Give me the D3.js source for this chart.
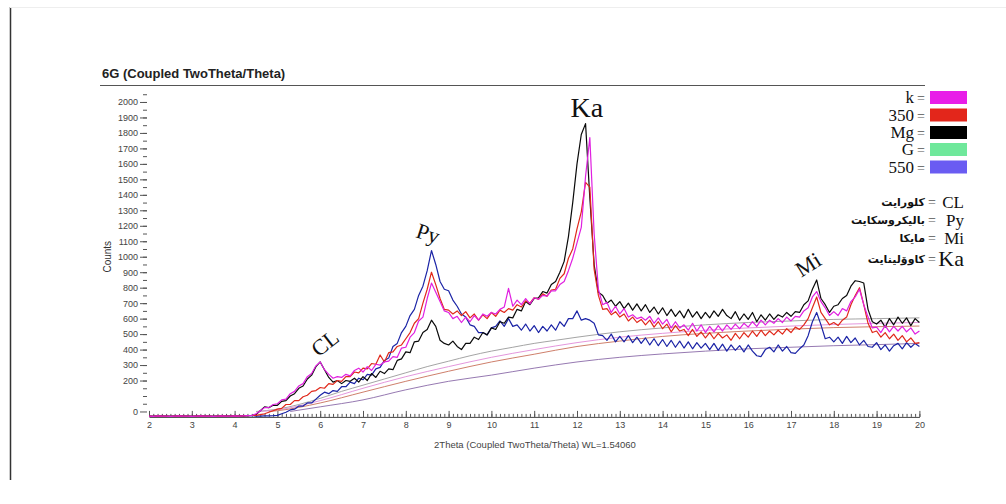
<!DOCTYPE html>
<html>
<head>
<meta charset="utf-8">
<script src="https://cdn.jsdelivr.net/npm/d3@7"></script>
<style>
  body { margin: 0; background: #fff; }
  svg { display: block; }
  .tick text { font-family: "Liberation Sans", Arial, sans-serif; font-size: 9px; fill: #444; }
  .tick line { stroke: #555; }
  .axis .domain { stroke: #444; }
</style>
</head>
<body>
<svg id="chart" width="1006" height="504"></svg>
<script>
const width = 1006, height = 504;

// ----- data (counts at every 0.1 deg, 2.0 .. 20.0) -----
const twoTheta = d3.range(0, 181).map(i => +(2 + i * 0.1).toFixed(1));

const flatStart = [-30,-31,-29,-30,-30,-31,-30,-29,-30,-30,-31,-30,-29,-30,-30,-31,-30,-29,-30,-30,-29,-30,-28,-27,-26];

// k (magenta)
const countsK = flatStart.concat([
  -15,5,25,25,45,50,75,80,115,130,
  165,180,225,245,295,320,270,240,215,225,
  220,240,230,265,280,255,290,265,305,300,
  320,325,355,350,410,415,480,510,585,610,
  730,830,770,710,650,640,600,615,575,610,
  580,620,590,630,615,640,630,660,675,795,
  680,720,690,730,695,735,725,750,745,780,
  780,820,840,910,990,1090,1190,1520,1770,1150,
  790,690,705,640,680,630,665,610,625,600,
  610,590,615,570,605,565,595,540,580,540,
  560,525,570,520,560,510,550,515,555,520,
  560,530,565,535,570,545,580,550,590,560,
  590,570,600,575,610,585,615,610,650,670,
  740,775,710,670,620,645,620,665,650,710,
  740,790,690,610,540,545,510,555,515,550,
  520,550,515,540,500,520]);

// 350 (red)
const counts350 = flatStart.concat([
  -25,-20,-15,-5,5,15,20,45,45,70,
  70,95,105,130,135,155,150,180,175,200,
  195,225,225,255,250,280,275,310,305,365,
  320,380,385,420,430,470,510,570,600,700,
  790,900,820,730,660,655,630,650,620,645,
  605,630,590,625,600,640,615,655,640,665,
  655,690,675,715,700,735,725,760,745,785,
  790,860,890,990,1050,1180,1290,1480,1450,920,
  750,660,665,625,645,610,630,585,610,575,
  595,560,590,545,580,535,565,515,555,520,
  530,490,530,485,515,475,510,470,505,475,
  495,460,505,470,510,480,520,485,525,490,
  520,495,525,500,535,510,545,530,560,600,
  670,740,640,600,560,575,555,590,610,690,
  750,800,690,570,510,520,480,510,470,500,
  460,490,450,475,440,445]);

// Mg (black)
const countsMg = flatStart.concat([
  -20,5,30,25,40,40,65,70,100,115,
  150,165,210,235,290,320,270,220,190,200,
  180,200,195,215,190,225,200,245,220,260,
  245,275,270,330,340,385,380,450,455,510,
  530,590,550,460,440,430,455,420,400,440,
  440,480,465,510,495,540,530,580,570,610,
  605,660,650,710,690,730,735,775,765,820,
  840,900,970,1130,1350,1600,1790,1860,1380,950,
  770,750,700,720,680,710,665,700,655,695,
  650,690,640,675,630,670,620,660,615,650,
  605,660,610,645,600,640,605,650,615,660,
  620,600,645,590,630,595,640,580,625,590,
  630,595,625,610,640,615,645,640,690,715,
  790,850,730,690,640,680,690,730,750,810,
  845,840,830,660,580,565,590,545,600,560,
  610,570,605,555,600,575]);

// G (green) - listed in the legend, no visible trace
const countsG = [];

// 550 (blue)
const counts550 = flatStart.concat([
  -30,-30,-29,-28,-27,-25,-15,-5,10,15,
  35,35,55,55,80,105,125,115,135,130,
  160,160,190,180,215,205,240,235,275,285,
  330,345,420,440,510,550,620,660,750,810,
  910,1040,950,840,790,780,720,680,630,610,
  560,550,510,510,495,540,550,585,550,600,
  550,560,525,565,520,555,510,550,520,560,
  525,580,550,600,600,650,590,600,590,570,
  495,490,460,500,450,485,450,490,445,480,
  440,475,430,470,425,465,420,460,415,455,
  410,450,405,445,410,440,400,440,395,435,
  390,430,395,425,385,430,390,360,355,400,
  415,385,430,390,420,380,375,405,430,490,
  580,640,560,470,480,450,480,440,485,445,
  475,430,460,420,415,445,400,430,390,425,
  440,405,445,415,440,420]);

// fitted backgrounds (thin curves): [2theta, counts]
const bgMg  = [[4.5,0],[5,15],[5.5,45],[6,85],[6.5,130],[7,170],[7.5,210],[8,250],[8.5,290],[9,325],[9.5,360],[10,390],[10.5,415],[11,440],[11.5,460],[12,480],[13,515],[14,540],[15,560],[16,575],[17,585],[18,595],[19,600],[20,605]];
const bgK   = [[4.6,0],[5,10],[6,70],[7,150],[8,225],[9,290],[10,350],[11,400],[12,445],[13,480],[14,505],[15,525],[16,540],[17,552],[18,562],[19,570],[20,575]];
const bg350 = [[4.8,0],[5,5],[6,55],[7,125],[8,195],[9,260],[10,320],[11,370],[12,420],[13,455],[14,485],[15,505],[16,520],[17,532],[18,542],[19,548],[20,552]];
const bg550 = [[5.3,0],[6,30],[7,75],[8,140],[9,195],[10,235],[11,280],[12,320],[13,350],[14,372],[15,390],[16,405],[17,415],[18,425],[19,432],[20,440]];

const legendNames  = ["k", "350", "Mg", "G", "550"];
const legendColors = ["#e81ee8", "#e3261b", "#000000", "#6fe89b", "#6a5cf2"];

const mineralAbbr = ["CL", "Py", "Mi", "Ka"];
const mineralName = ["کلورایت", "بالیکروسکایت", "مایکا", "کاوۆلینایت"];

const xTicks = d3.range(2, 21);
const yTicks = d3.range(200, 2001, 100).concat([0]);

// ----- chart -----
const svg = d3.select("#chart");

// outer frame bits
svg.append("line").attr("x1", 10.5).attr("x2", 10.5).attr("y1", 7).attr("y2", 480)
  .attr("stroke", "#333").attr("stroke-width", 1.5);
svg.append("line").attr("x1", 10).attr("x2", 1006).attr("y1", 7.5).attr("y2", 7.5)
  .attr("stroke", "#eee").attr("stroke-width", 1);

let x = d3.scaleLinear().domain([2, 20]).range([149, 919.4]);
let y = d3.scaleLinear().domain([-35, 2080]).range([416.9, 89.6]);

// title
svg.append("text")
  .attr("x", 102).attr("y", 78)
  .style("font-family", "Liberation Sans, Arial, sans-serif")
  .style("font-size", "13px").style("font-weight", "bold").style("fill", "#222")
  .text("6G (Coupled TwoTheta/Theta)");
svg.append("line").attr("x1", 100).attr("x2", 925).attr("y1", 85.5).attr("y2", 85.5)
  .attr("stroke", "#555").attr("stroke-width", 1);

// x axis, ticks pointing up
svg.append("g")
  .attr("class", "axis x")
  .attr("transform", "translate(0," + y(-35) + ")")
  .call(d3.axisBottom(x).tickValues(d3.range(2, 20.001, 0.1)).tickSize(-3).tickSizeOuter(0).tickFormat(""))
  .call(g => g.select(".domain").attr("stroke", "#444"));
svg.append("g")
  .attr("class", "axis x")
  .attr("transform", "translate(0," + y(-35) + ")")
  .call(d3.axisBottom(x).tickValues(xTicks).tickSize(-6).tickSizeOuter(0).tickPadding(5).tickFormat(d3.format("d")))
  .call(g => g.select(".domain").remove());

// y axis
svg.append("g")
  .attr("class", "axis y")
  .attr("transform", "translate(147,0)")
  .call(d3.axisLeft(y).tickValues(d3.range(50, 2051, 50)).tickSize(4).tickFormat(""))
  .call(g => g.select(".domain").remove());
svg.append("g")
  .attr("class", "axis y")
  .attr("transform", "translate(147,0)")
  .call(d3.axisLeft(y).tickValues(yTicks).tickSize(7).tickPadding(2).tickFormat(d3.format("d")))
  .call(g => g.select(".domain").remove());

// axis titles
svg.append("text")
  .attr("transform", "translate(111," + y(1000) + ") rotate(-90)")
  .attr("text-anchor", "middle")
  .style("font-family", "Liberation Sans Narrow, Liberation Sans, Arial, sans-serif")
  .style("font-size", "10px").style("fill", "#333")
  .text("Counts");
svg.append("text")
  .attr("x", 535).attr("y", 448)
  .attr("text-anchor", "middle")
  .style("font-family", "Liberation Sans, Arial, sans-serif")
  .style("font-size", "9.5px").style("fill", "#444")
  .text("2Theta (Coupled TwoTheta/Theta) WL=1.54060");

// background curves
const bgLine = d3.line().x(d => x(d[0])).y(d => y(d[1])).curve(d3.curveMonotoneX);
[[bgMg, "#9a9a9a"], [bgK, "#e08ad8"], [bg350, "#c8705a"], [bg550, "#8a6aa8"]].forEach(function(b){
  svg.append("path")
    .attr("d", bgLine(b[0]))
    .attr("fill", "none")
    .attr("stroke", b[1])
    .attr("stroke-width", 0.9);
});

// scans
const scans = [
  {name: "550", values: counts550, color: "#1b24a6"},
  {name: "Mg",  values: countsMg,  color: "#0a0a0a"},
  {name: "350", values: counts350, color: "#e0281a"},
  {name: "k",   values: countsK,   color: "#e020e0"}
];
const scanLine = d3.line()
  .x((d, i) => x(twoTheta[i]))
  .y(d => y(d));
svg.selectAll(".scan")
  .data(scans)
  .join("path")
    .attr("class", "scan")
    .attr("fill", "none")
    .attr("stroke", d => d.color)
    .attr("stroke-width", 1.2)
    .attr("stroke-linejoin", "round")
    .attr("d", d => scanLine(d.values));

// peak labels
const serif = "Liberation Serif, Times New Roman, serif";
function peakLabel(txt, d, c, size, rot){
  svg.append("text")
    .attr("transform", "translate(" + x(d) + "," + y(c) + ") rotate(" + rot + ")")
    .attr("text-anchor", "middle")
    .attr("dominant-baseline", "central")
    .style("font-family", serif).style("font-size", size + "px").style("fill", "#111")
    .text(txt);
}
peakLabel("CL", 6.11, 443, 22, -38);
peakLabel("Py", 8.52, 1150, 22, 18);
peakLabel("Ka", 12.23, 1965, 28, 0);
peakLabel("Mi", 17.4, 950, 22, -32);

// legend
const legY = [97.5, 115, 132.5, 149.5, 167];
legendNames.forEach(function(n, i){
  svg.append("text")
    .attr("x", 914).attr("y", legY[i] + 5.5)
    .attr("text-anchor", "end")
    .style("font-family", serif).style("font-size", "17px").style("fill", "#111")
    .text(n);
  svg.append("text")
    .attr("x", 921).attr("y", legY[i] + 5.5)
    .attr("text-anchor", "middle")
    .style("font-family", serif).style("font-size", "14px").style("fill", "#555")
    .text("=");
  svg.append("rect")
    .attr("x", 930).attr("y", legY[i] - 6.5)
    .attr("width", 37).attr("height", 13)
    .attr("fill", legendColors[i]);
});

// mineral key
const minY = [202, 220, 238, 259];
mineralAbbr.forEach(function(a, i){
  const big = a === "Ka";
  svg.append("text")
    .attr("x", 964).attr("y", minY[i] + (big ? 7 : 5.5))
    .attr("text-anchor", "end")
    .style("font-family", serif).style("font-size", (big ? 22 : 17) + "px").style("fill", "#111")
    .text(a);
  svg.append("text")
    .attr("x", 932).attr("y", minY[i] + 5)
    .attr("text-anchor", "middle")
    .style("font-family", serif).style("font-size", "14px").style("fill", "#555")
    .text("=");
  svg.append("text")
    .attr("x", 925).attr("y", minY[i] + 4)
    .attr("text-anchor", "end")
    .style("font-family", "DejaVu Sans, sans-serif").style("font-size", "11px")
    .style("font-weight", "bold").style("fill", "#111")
    .text(mineralName[i]);
});
</script>
</body>
</html>
